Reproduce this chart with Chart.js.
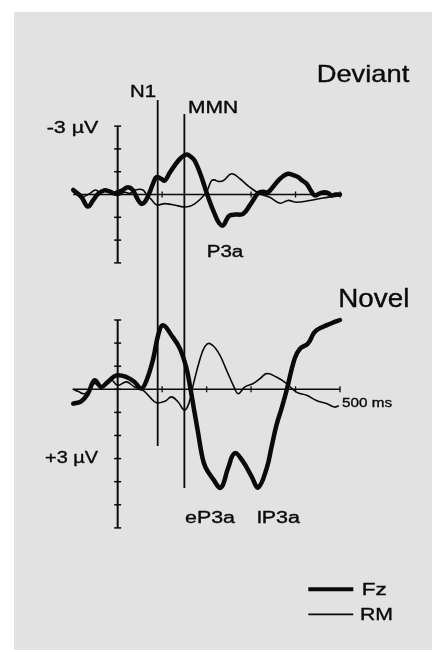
<!DOCTYPE html>
<html><head><meta charset="utf-8">
<script src="https://cdn.jsdelivr.net/npm/chart.js@4.4.1/dist/chart.umd.min.js"></script>
<style>html,body{margin:0;padding:0;background:#fff;}canvas{display:block;}</style>
</head><body>
<canvas id="c" width="432" height="652"></canvas>
<script>
// ---------- DATA (ms, µV; negative is plotted upwards) ----------
const devFzMs = [-100,-82,-67,-55,-44,-30,-20,-8,0,12,23,34,42,53,62,72,80,87,97,106,117,128,142,155,165,173,186,196,205,218,228,237,245,252,265,282,297,308,316,327,338,350,361,372,383,395,406,416,425,435,443,455,466,474,481,490,500];
const devFzUv = [-0.2,0.1,0.53,0.25,-0.03,-0.18,-0.15,-0.05,-0.1,-0.2,-0.32,-0.2,0.1,0.41,0.3,-0.1,-0.5,-0.76,-0.7,-0.61,-0.95,-1.27,-1.6,-1.75,-1.65,-1.49,-0.9,-0.32,0.2,0.85,1.25,1.36,1.1,0.92,0.88,0.85,0.48,0.15,-0.06,-0.12,-0.1,-0.35,-0.61,-0.8,-0.91,-0.85,-0.76,-0.6,-0.47,-0.15,0.04,-0.05,-0.1,-0.05,0.04,0.0,0.0];

const devRmMs = [-100,-90,-78,-62,-50,-40,-30,-15,0,15,28,40,57,66,75,87,106,121,136,151,162,173,185,200,211,218,225,237,256,275,297,320,342,365,383,402,432,462,485,500];
const devRmUv = [-0.15,0.0,0.1,-0.05,-0.2,-0.1,-0.2,-0.1,0.05,-0.1,-0.05,-0.2,-0.2,0.05,0.2,0.45,0.4,0.44,0.5,0.55,0.52,0.41,0.22,-0.12,-0.61,-0.64,-0.58,-0.6,-0.91,-0.69,-0.32,-0.03,0.12,0.38,0.26,0.34,0.26,0.15,0.09,0.04];

const novFzMs = [-100,-82,-67,-52,-37,-22,-3,20,38,53,65,80,91,102,121,140,155,163,172,181,190,198,214,232,248,263,282,301,316,335,346,357,369,380,398,410,428,443,462,481,500];
const novFzUv = [0.62,0.52,0.19,-0.39,-0.1,-0.32,-0.6,-0.53,-0.32,-0.03,-0.39,-1.33,-2.34,-2.77,-2.34,-1.76,-0.89,-0.1,0.9,1.9,2.9,3.4,3.87,4.26,3.43,2.77,3.13,3.77,4.25,3.43,2.5,1.56,0.8,0.04,-1.33,-1.76,-1.98,-2.48,-2.71,-2.86,-3.0];

const novRmMs = [-100,-88,-74,-62,-52,-35,-14,0,20,38,57,72,87,106,121,136,150,160,170,185,196,207,226,245,260,271,286,305,320,335,357,380,402,425,447,470,488,496];
const novRmUv = [0.0,0.1,0.19,-0.05,-0.25,-0.1,-0.39,-0.17,-0.32,-0.1,0.04,0.33,0.58,0.52,0.33,0.55,0.9,0.62,-0.2,-1.3,-1.85,-1.98,-1.61,-0.82,-0.17,0.19,-0.1,-0.25,-0.46,-0.68,-0.53,-0.25,0.12,0.26,0.48,0.62,0.77,0.72];

const seriesNames = ['Fz','RM'];
const markerNames = ['N1','MMN'];
const markerMs = [90,150];
const xTickMs = [100,200,300,400,500];
const devYTicks = [-3,-2,-1,0,1,2,3];
const novYTicks = [-3,-2,-1,0,1,2,3,4,5,6];

// ---------- LAYOUT ----------
const W = 432, H = 652;
const X_LEFT_PX = 73.2, X_RIGHT_PX = 340;
const DEV_ZERO = 194.5, DEV_PPU = 22.8;
const NOV_ZERO = 389.3, NOV_PPU = 23.1;
const markerTopPx = [100, 114];
const markerBottomPx = [446, 488];
const INK = '#0a0a0a';

function pts(ms, uv){ return ms.map((m,i)=>({x:m, y:uv[i]})); }

function fitText(ctx, text, x, baseline, size, width){
  ctx.save();
  ctx.font = size + 'px "Liberation Sans", Arial, sans-serif';
  ctx.textBaseline = 'alphabetic';
  ctx.textAlign = 'left';
  const m = ctx.measureText(text).width;
  const s = width ? width / m : 1;
  ctx.translate(x, baseline);
  ctx.scale(s, 1);
  ctx.fillStyle = INK;
  ctx.strokeStyle = INK;
  ctx.lineWidth = 0.35;
  ctx.fillText(text, 0, 0);
  ctx.strokeText(text, 0, 0);
  ctx.restore();
}

const decor = {
  id: 'decor',
  beforeDraw(chart){
    const ctx = chart.ctx;
    ctx.save();
    ctx.fillStyle = '#ffffff';
    ctx.fillRect(0,0,W,H);
    ctx.fillStyle = '#e2e2e2';
    ctx.fillRect(14,12,W-14,638);
    ctx.restore();
  },
  beforeDatasetsDraw(chart){
    const ctx = chart.ctx;
    const x = chart.scales.x, yD = chart.scales.yD, yN = chart.scales.yN;
    ctx.save();
    ctx.strokeStyle = INK;
    ctx.lineCap = 'butt';
    const x0 = x.getPixelForValue(0);
    const panels = [[yD, devYTicks],[yN, novYTicks]];
    panels.forEach(([ys, ticks])=>{
      ctx.lineWidth = 2;
      ctx.beginPath();
      ctx.moveTo(x0, ys.getPixelForValue(ticks[0]));
      ctx.lineTo(x0, ys.getPixelForValue(ticks[ticks.length-1]));
      ctx.stroke();
      ticks.forEach(t=>{
        const py = ys.getPixelForValue(t);
        ctx.lineWidth = 1.5;
        ctx.beginPath(); ctx.moveTo(x0-3.5, py); ctx.lineTo(x0+3.5, py); ctx.stroke();
      });
      const zy = ys.getPixelForValue(0);
      ctx.lineWidth = 1.4;
      ctx.beginPath();
      ctx.moveTo(x.getPixelForValue(-100), zy);
      ctx.lineTo(x.getPixelForValue(500), zy);
      ctx.stroke();
      xTickMs.forEach(t=>{
        const px = x.getPixelForValue(t);
        ctx.lineWidth = 1.3;
        ctx.beginPath(); ctx.moveTo(px, zy-3); ctx.lineTo(px, zy+3); ctx.stroke();
      });
    });
    markerMs.forEach((m,i)=>{
      const px = x.getPixelForValue(m);
      ctx.lineWidth = 1.8;
      ctx.beginPath();
      ctx.moveTo(px, markerTopPx[i]);
      ctx.lineTo(px, markerBottomPx[i]);
      ctx.stroke();
    });
    ctx.restore();
  },
  afterDraw(chart){
    const ctx = chart.ctx;
    fitText(ctx, 'Deviant', 316.7, 81.7, 24, 92.6);
    fitText(ctx, 'Novel', 338.3, 307, 25, 71);
    fitText(ctx, markerNames[0], 130, 97, 16, 26);
    fitText(ctx, markerNames[1], 188, 112.7, 16, 50);
    fitText(ctx, '-3 µV', 46.7, 133, 16, 51.6);
    fitText(ctx, 'P3a', 206.7, 256.7, 16, 36.6);
    fitText(ctx, '500 ms', 342, 406.5, 13.5, 50);
    fitText(ctx, '+3 µV', 45, 462.5, 16, 53);
    fitText(ctx, 'eP3a', 185, 522.7, 16, 50);
    fitText(ctx, 'lP3a', 257, 522.7, 16, 43);
    ctx.save();
    ctx.strokeStyle = INK;
    ctx.lineWidth = 4;
    ctx.beginPath(); ctx.moveTo(308.3, 589.3); ctx.lineTo(353.3, 589.3); ctx.stroke();
    ctx.lineWidth = 1.8;
    ctx.beginPath(); ctx.moveTo(308.3, 614.3); ctx.lineTo(353.3, 614.3); ctx.stroke();
    ctx.restore();
    fitText(ctx, seriesNames[0], 361.7, 595, 16, 25);
    fitText(ctx, seriesNames[1], 360, 620, 16, 33);
  }
};

const thick = {borderColor: INK, borderWidth: 4.5, pointRadius: 0, tension: 0.4, fill: false, clip: false, borderJoinStyle: 'round', borderCapStyle: 'round', xAxisID: 'x'};
const thin = {borderColor: INK, borderWidth: 1.6, pointRadius: 0, tension: 0.4, fill: false, clip: false, borderJoinStyle: 'round', borderCapStyle: 'round', xAxisID: 'x'};

new Chart(document.getElementById('c'), {
  type: 'line',
  data: {
    datasets: [
      Object.assign({label: 'Deviant ' + seriesNames[1], data: pts(devRmMs, devRmUv), yAxisID: 'yD'}, thin),
      Object.assign({label: 'Deviant ' + seriesNames[0], data: pts(devFzMs, devFzUv), yAxisID: 'yD'}, thick),
      Object.assign({label: 'Novel ' + seriesNames[1], data: pts(novRmMs, novRmUv), yAxisID: 'yN'}, thin),
      Object.assign({label: 'Novel ' + seriesNames[0], data: pts(novFzMs, novFzUv), yAxisID: 'yN'}, thick)
    ]
  },
  options: {
    responsive: false,
    animation: false,
    devicePixelRatio: 1,
    layout: {padding: {left: X_LEFT_PX, right: W - X_RIGHT_PX, top: 0, bottom: 0}},
    scales: {
      x: {type: 'linear', min: -100, max: 500, display: false, bounds: 'data'},
      yD: {type: 'linear', reverse: true, min: -DEV_ZERO/DEV_PPU, max: (H-DEV_ZERO)/DEV_PPU, display: false, bounds: 'data'},
      yN: {type: 'linear', reverse: true, min: -NOV_ZERO/NOV_PPU, max: (H-NOV_ZERO)/NOV_PPU, display: false, bounds: 'data'}
    },
    plugins: {legend: {display: false}, tooltip: {enabled: false}, title: {display: false}},
    events: []
  },
  plugins: [decor]
});
</script>
</body></html>
